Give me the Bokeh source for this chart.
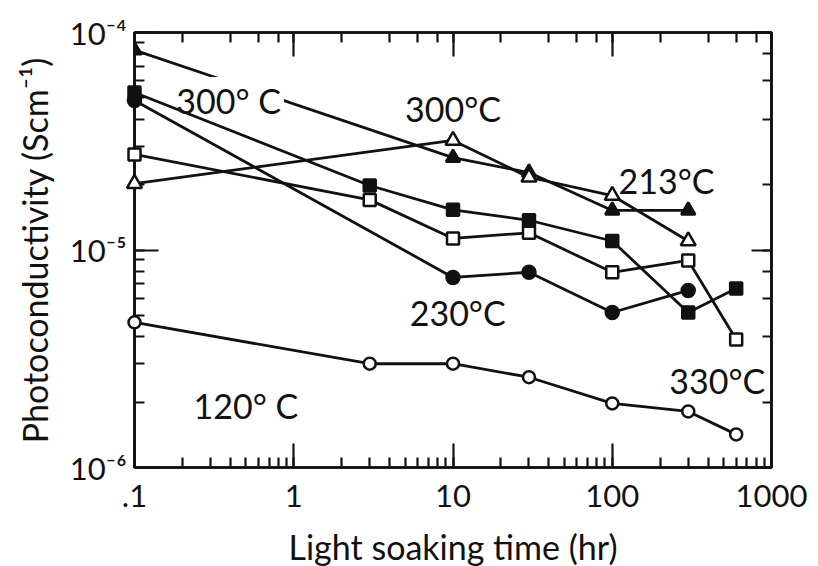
import numpy as np
from bokeh.plotting import figure
from bokeh.models import LogAxis, Label, CustomJSTickFormatter, LogTicker, Range1d
from bokeh.embed import file_html
from bokeh.resources import INLINE

# ---- data ----
t_tri_filled = [0.1, 10, 30, 100, 300]
s_tri_filled = [8.3e-5, 2.66e-5, 2.27e-5, 1.52e-5, 1.52e-5]

t_tri_open = [0.1, 10, 30, 100, 300]
s_tri_open = [2.02e-5, 3.19e-5, 2.16e-5, 1.78e-5, 1.1e-5]

t_sq_filled = [0.1, 3, 10, 30, 100, 300, 600]
s_sq_filled = [5.3e-5, 1.98e-5, 1.53e-5, 1.37e-5, 1.1e-5, 5.16e-6, 6.65e-6]

t_sq_open = [0.1, 3, 10, 30, 100, 300, 600]
s_sq_open = [2.75e-5, 1.7e-5, 1.13e-5, 1.2e-5, 7.9e-6, 8.95e-6, 3.88e-6]

t_circ_filled = [0.1, 10, 30, 100, 300]
s_circ_filled = [4.87e-5, 7.48e-6, 7.9e-6, 5.16e-6, 6.52e-6]

t_circ_open = [0.1, 3, 10, 30, 100, 300, 600]
s_circ_open = [4.65e-6, 3.0e-6, 3.0e-6, 2.6e-6, 1.97e-6, 1.81e-6, 1.42e-6]

x_tick_values = [0.1, 1, 10, 100, 1000]
x_tick_labels = [".1", "1", "10", "100", "1000"]
y_tick_values = [1e-6, 1e-5, 1e-4]
y_tick_labels = ["10\u207b\u2076", "10\u207b\u2075", "10\u207b\u2074"]

labels_text = ["300\u00b0 C", "300\u00b0C", "213\u00b0C", "230\u00b0C", "330\u00b0C", "120\u00b0 C"]
labels_x = [0.39, 10, 219, 10.7, 457, 0.5]
labels_y = [4.87e-5, 4.48e-5, 2.09e-5, 5.16e-6, 2.51e-6, 1.93e-6]

FONT = "Lato"
BLACK = "#111111"

p = figure(frame_width=637, frame_height=435, x_axis_type="log", y_axis_type="log",
           x_range=Range1d(0.1, 1000), y_range=Range1d(1e-6, 1e-4),
           output_backend="svg", toolbar_location=None,
           min_border_left=134, min_border_right=47, min_border_top=32, min_border_bottom=99)
p.outline_line_color = BLACK
p.outline_line_width = 2.6
p.grid.visible = False
p.background_fill_color = "white"
p.border_fill_color = "white"

def style_axis(ax, show_labels=True):
    ax.axis_line_color = BLACK
    ax.axis_line_width = 2.6
    ax.major_tick_line_color = BLACK
    ax.minor_tick_line_color = BLACK
    ax.major_tick_line_width = 2.2
    ax.minor_tick_line_width = 2.2
    ax.major_tick_out = 0
    ax.minor_tick_out = 0
    ax.major_tick_in = 24
    ax.minor_tick_in = 10
    if show_labels:
        ax.major_label_text_font = FONT
        ax.major_label_text_font_size = "31px"
        ax.major_label_text_color = BLACK
        ax.axis_label_text_font = FONT
        ax.axis_label_text_font_size = "34px"
        ax.axis_label_text_font_style = "normal"
        ax.axis_label_text_color = BLACK
    else:
        ax.major_label_text_font_size = "2px"
        ax.major_label_text_alpha = 0
        ax.major_label_standoff = 0

blank = CustomJSTickFormatter(code="return ' ';")
xfmt = CustomJSTickFormatter(args=dict(vals=x_tick_values, labs=x_tick_labels), code="""
    for (let i = 0; i < vals.length; i++) {
        if (Math.abs(Math.log10(tick) - Math.log10(vals[i])) < 1e-6) return labs[i];
    }
    return ' ';
""")
yfmt = CustomJSTickFormatter(args=dict(vals=y_tick_values, labs=y_tick_labels), code="""
    for (let i = 0; i < vals.length; i++) {
        if (Math.abs(Math.log10(tick) - Math.log10(vals[i])) < 1e-6) return labs[i];
    }
    return ' ';
""")

xa = p.xaxis[0]
ya = p.yaxis[0]
style_axis(xa)
style_axis(ya)
xa.formatter = xfmt
ya.formatter = yfmt
xa.axis_label = "Light soaking time (hr)"
ya.axis_label = "Photoconductivity (Scm\u207b\u00b9)"
xa.major_label_standoff = 17
xa.axis_label_standoff = 16
ya.major_label_standoff = 8
ya.axis_label_standoff = 12

top = LogAxis(ticker=LogTicker(), formatter=blank)
right = LogAxis(ticker=LogTicker(), formatter=blank)
style_axis(top, False)
style_axis(right, False)
top.major_tick_in = 24
right.major_tick_in = 20
right.minor_tick_in = 9
p.add_layout(top, "above")
p.add_layout(right, "right")

LW = 2.8

def series(t, s, marker, filled, size, level="glyph"):
    r1 = p.line(t, s, line_color=BLACK, line_width=LW)
    r2 = p.scatter(t, s, marker=marker, size=size, line_color=BLACK, line_width=2.5,
                   fill_color=BLACK if filled else "white")
    r1.level = level
    r2.level = level

series(t_circ_open, s_circ_open, "circle", False, 12, "overlay")
series(t_circ_filled, s_circ_filled, "circle", True, 13, "overlay")
series(t_sq_open, s_sq_open, "square", False, 12, "overlay")
series(t_sq_filled, s_sq_filled, "square", True, 12, "overlay")
series(t_tri_open, s_tri_open, "triangle", False, 15, "overlay")
series(t_tri_filled, s_tri_filled, "triangle", True, 14)

for i, (txt, lx, ly) in enumerate(zip(labels_text, labels_x, labels_y)):
    lab = Label(x=lx, y=ly, text=txt, text_font=FONT, text_font_size="34px",
                text_color=BLACK, text_align="center", text_baseline="middle")
    if i == 0:
        lab.background_fill_color = "white"
        lab.padding = 3
    p.add_layout(lab)

open("out.html", "w").write(file_html(p, INLINE))
